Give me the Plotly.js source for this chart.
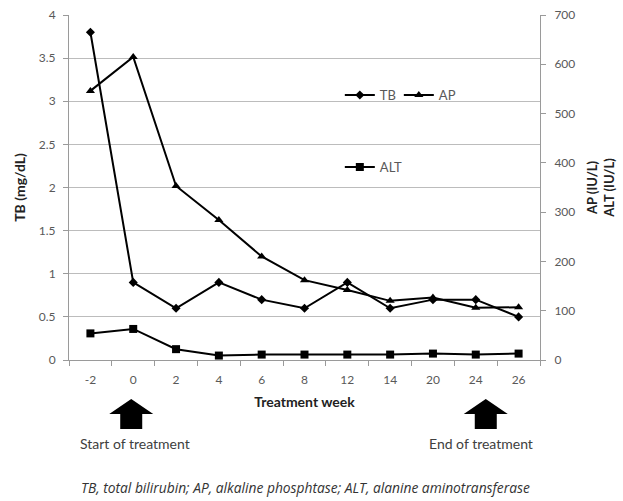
<!DOCTYPE html>
<html>
<head>
<meta charset="utf-8">
<script src="https://cdn.plot.ly/plotly-3.0.1.min.js"></script>
<style>html,body{margin:0;padding:0;background:#fff;}#chart{width:623px;height:501px;}</style>
</head>
<body>
<div id="chart"></div>
<script>
// Data
const weeks = ["-2", "0", "2", "4", "6", "8", "12", "14", "20", "24", "26"];
const tbValues = [3.8, 0.9, 0.6, 0.9, 0.7, 0.6, 0.9, 0.6, 0.7, 0.7, 0.5];
const apValues = [546, 615, 353, 284, 210, 162, 142, 120, 127, 106, 107];
const altValues = [54, 63, 22, 9, 11, 11, 11, 11, 13, 11, 13];
const startWeek = "0";
const endWeek = "24";
const leftTicks = [0, 0.5, 1, 1.5, 2, 2.5, 3, 3.5, 4];
const rightTicks = [0, 100, 200, 300, 400, 500, 600, 700];

const startIdx = weeks.indexOf(startWeek);
const endIdx = weeks.indexOf(endWeek);

const FONT = "Lato, 'Open Sans', sans-serif";
const TXT = "#595959";

const lineStyle = {color: "#000", width: 2};
const traces = [
  {x: weeks, y: tbValues, name: "TB", type: "scatter", mode: "lines+markers",
   line: lineStyle, marker: {symbol: "diamond", size: 7, color: "#000"}, yaxis: "y", legend: "legend"},
  {x: weeks, y: apValues, name: "AP", type: "scatter", mode: "lines+markers",
   line: lineStyle, marker: {symbol: "triangle-up", size: 8, color: "#000"}, yaxis: "y2", legend: "legend"},
  {x: weeks, y: altValues, name: "ALT", type: "scatter", mode: "lines+markers",
   line: lineStyle, marker: {symbol: "square", size: 8, color: "#000"}, yaxis: "y2", legend: "legend2"}
];

// Block arrow path: x in pixels relative to the category anchor, y in paper fraction
const PLOT_H = 501 - 15 - 141;
const arrowPath = (dx) => {
  const tip = -39 / PLOT_H, base = -54 / PLOT_H, bottom = -69 / PLOT_H, hw = 22, sw = 11;
  return `M${dx},${tip} L${dx+hw},${base} L${dx+sw},${base} L${dx+sw},${bottom} L${dx-sw},${bottom} L${dx-sw},${base} L${dx-hw},${base} Z`;
};

const layout = {
  width: 623, height: 501,
  margin: {l: 69, r: 83, t: 15, b: 141},
  paper_bgcolor: "#fff", plot_bgcolor: "#fff",
  font: {family: FONT, size: 12, color: TXT},
  showlegend: true,
  xaxis: {
    type: "category", categoryorder: "array", categoryarray: weeks,
    range: [-0.5, weeks.length - 0.5], autorange: false,
    showline: true, linecolor: "#9a9a9a", linewidth: 1,
    ticks: "outside", tickson: "boundaries", ticklen: 5, tickcolor: "#9a9a9a",
    showgrid: false, zeroline: false, ticklabelstandoff: 9, tickangle: 0,
    tickfont: {family: FONT, size: 12, color: TXT},
    title: {text: "<b>Treatment week</b>", font: {family: FONT, size: 14, color: "#222"}, standoff: 10}
  },
  yaxis: {
    range: [0, 4], tickvals: leftTicks, ticktext: leftTicks.map(String),
    showline: true, linecolor: "#9a9a9a", linewidth: 1,
    ticks: "outside", ticklen: 5, tickcolor: "#9a9a9a", ticklabelstandoff: 5,
    showgrid: true, gridcolor: "#bcbcbc", gridwidth: 1, zeroline: false,
    tickfont: {family: FONT, size: 12, color: TXT},
    title: {text: "<b>TB (mg/dL)</b>", font: {family: FONT, size: 14, color: "#222"}, standoff: 9}
  },
  yaxis2: {
    overlaying: "y", side: "right", range: [0, 700], tickvals: rightTicks,
    showline: true, linecolor: "#9a9a9a", linewidth: 1,
    ticks: "outside", ticklen: 5, tickcolor: "#9a9a9a", ticklabelstandoff: 6,
    showgrid: false, zeroline: false,
    tickfont: {family: FONT, size: 12, color: TXT},
    title: {text: "<b>AP (IU/L)<br>ALT (IU/L)</b>", font: {family: FONT, size: 13, color: "#222"}, standoff: 13}
  },
  legend: {
    orientation: "h", x: 0.575, y: 0.768, xanchor: "left", yanchor: "middle",
    bgcolor: "rgba(0,0,0,0)", font: {family: FONT, size: 13, color: TXT},
    itemwidth: 30, entrywidth: 14, tracegroupgap: 0
  },
  legend2: {
    orientation: "h", x: 0.575, y: 0.559, xanchor: "left", yanchor: "middle",
    bgcolor: "rgba(0,0,0,0)", font: {family: FONT, size: 13, color: TXT},
    itemwidth: 30
  },
  shapes: [
    {type: "path", xref: "x", xsizemode: "pixel", xanchor: startIdx,
     yref: "paper", path: arrowPath(-2), fillcolor: "#000", line: {width: 0}, layer: "above"},
    {type: "path", xref: "x", xsizemode: "pixel", xanchor: endIdx,
     yref: "paper", path: arrowPath(10), fillcolor: "#000", line: {width: 0}, layer: "above"}
  ],
  annotations: [
    {text: "Start of treatment", xref: "x", x: startIdx, yref: "paper", y: -0.243, xshift: 2,
     yanchor: "middle", showarrow: false, font: {family: FONT, size: 14, color: "#404040"}},
    {text: "End of treatment", xref: "x", x: endIdx, yref: "paper", y: -0.243, xshift: 5,
     yanchor: "middle", showarrow: false, font: {family: FONT, size: 14, color: "#404040"}},
    {text: "<i>TB, total bilirubin; AP, alkaline phosphtase; ALT, alanine aminotransferase</i>",
     xref: "paper", x: 0.503, yref: "paper", y: -0.371, yanchor: "middle",
     showarrow: false, font: {family: "'Open Sans', sans-serif", size: 13.8, color: "#333"}}
  ]
};

Plotly.newPlot("chart", traces, layout, {displayModeBar: false, staticPlot: true});
</script>
</body>
</html>
